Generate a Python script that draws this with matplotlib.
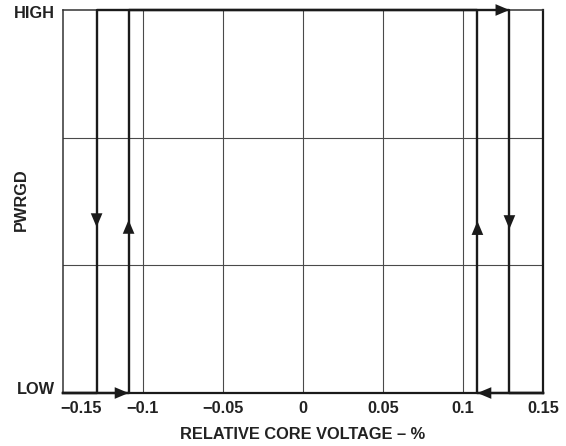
import matplotlib
matplotlib.use("Agg")
import matplotlib.pyplot as plt
from matplotlib.transforms import ScaledTranslation

plt.rcParams['font.family'] = ['Liberation Sans', 'DejaVu Sans']
plt.rcParams['font.weight'] = 'bold'

# PWRGD hysteresis thresholds (relative core voltage, %)
LOW, HIGH = 0, 1
rise_x = [-0.15, -0.109, -0.109, 0.129, 0.129, 0.15]   # sweep upward
rise_y = [LOW, LOW, HIGH, HIGH, LOW, LOW]
fall_x = [0.15, 0.109, 0.109, -0.129, -0.129, -0.15]   # sweep downward
fall_y = [LOW, LOW, HIGH, HIGH, LOW, LOW]

x_ticks = [-0.15, -0.1, -0.05, 0, 0.05, 0.1, 0.15]
x_labels = ["\u22120.15", "\u22120.1", "\u22120.05", "0", "0.05", "0.1", "0.15"]
y_grid = [1/3, 2/3]

FS = 11.8
TXT = "#222222"

fig = plt.figure(figsize=(5.66, 4.46), dpi=100)
ax = fig.add_axes([0.1113, 0.1188, 0.8481, 0.8588])

ax.set_xlim(-0.15, 0.15)
ax.set_ylim(LOW, HIGH)

for x in x_ticks[1:-1]:
    ax.axvline(x, color="#4a4a4a", lw=0.8, zorder=1)
for y in y_grid:
    ax.axhline(y, color="#4a4a4a", lw=0.8, zorder=1)

ax.plot(rise_x, rise_y, color="#1a1a1a", lw=1.7, zorder=3, clip_on=False)
ax.plot(fall_x, fall_y, color="#1a1a1a", lw=1.7, zorder=3, clip_on=False)

def arrow(tip, tail):
    ax.annotate("", xy=tip, xytext=tail,
                arrowprops=dict(arrowstyle="-|>,head_length=1.0,head_width=0.42",
                                color="#1a1a1a", lw=0, shrinkA=0, shrinkB=0),
                zorder=4, annotation_clip=False)

# horizontal arrows
arrow((-0.109, LOW), (-0.120, LOW))
arrow((0.129, HIGH), (0.118, HIGH))
arrow((0.109, LOW), (0.120, LOW))
# vertical arrows
arrow((-0.129, 0.433), (-0.129, 0.47))
arrow((-0.109, 0.452), (-0.109, 0.415))
arrow((0.109, 0.449), (0.109, 0.412))
arrow((0.129, 0.428), (0.129, 0.465))

for side in ["left", "top"]:
    ax.spines[side].set_linewidth(1.1)
    ax.spines[side].set_color("#333333")
for side in ["bottom", "right"]:
    ax.spines[side].set_linewidth(1.6)
    ax.spines[side].set_color("#1a1a1a")

ax.set_xticks(x_ticks)
ax.set_xticklabels(x_labels, fontsize=FS, fontweight="bold", color=TXT)
ax.set_yticks([LOW, HIGH])
ax.set_yticklabels(["LOW", "HIGH"], fontsize=FS, fontweight="bold", color=TXT)
ax.tick_params(axis="both", length=0)
ax.tick_params(axis="x", pad=6)
ax.tick_params(axis="y", pad=6)

first = ax.get_xticklabels()[0]
first.set_horizontalalignment("left")
first.set_transform(first.get_transform() + ScaledTranslation(-0.03, 0, fig.dpi_scale_trans))

low_lbl, high_lbl = ax.get_yticklabels()
low_lbl.set_transform(low_lbl.get_transform() + ScaledTranslation(0, 0.05, fig.dpi_scale_trans))
high_lbl.set_transform(high_lbl.get_transform() + ScaledTranslation(0, -0.02, fig.dpi_scale_trans))

ax.set_xlabel("RELATIVE CORE VOLTAGE \u2013 %", fontsize=FS, fontweight="bold",
              color=TXT, labelpad=8)
ax.set_ylabel("PWRGD", fontsize=FS, fontweight="bold", color=TXT)
ax.yaxis.set_label_coords(-0.072, 0.504)

fig.savefig("out.png", dpi=100)
